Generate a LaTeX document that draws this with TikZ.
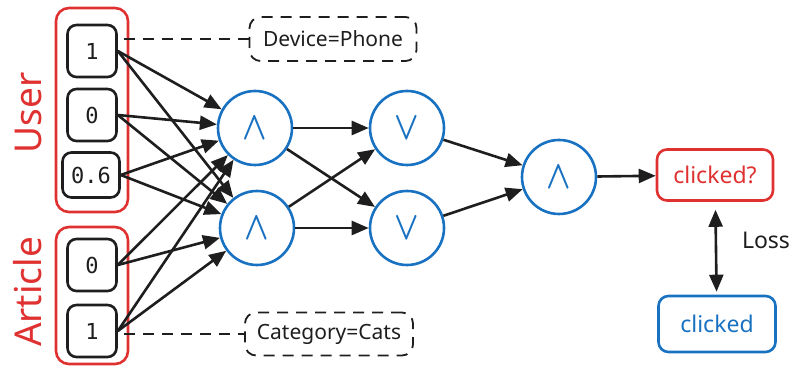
\RequirePackage{fix-cm}
\documentclass[tikz,border=0pt]{standalone}
\usepackage{fontspec}
\usepackage{graphicx}
\setmainfont{Noto Sans}
\newfontfamily\monofont{DejaVu Sans Mono}
\usetikzlibrary{arrows.meta}
\definecolor{XLred}{HTML}{E03131}
\definecolor{XLblue}{HTML}{1971C2}
\definecolor{XLdark}{HTML}{1E1E1E}
\newcommand{\numfont}{\monofont\fontsize{22}{26}\selectfont}
\newcommand{\tagfont}{\fontsize{21}{25}\selectfont}
\newcommand{\outfont}{\fontsize{23}{27}\selectfont}
\newcommand{\grpfont}{\fontsize{37}{40}\selectfont}
\newcommand{\opfont}{\fontsize{40}{44}\selectfont}
\newcommand{\opsym}[1]{\scalebox{0.8}[1]{\boldmath$#1$}}

\begin{document}
\begin{tikzpicture}[x=1pt, y=1pt, >={Triangle[length=17pt, width=14pt]}, line width=2.6pt,
    group/.style={draw=XLred, rounded corners=13pt},
    feat/.style={draw=XLdark, rounded corners=9pt, minimum width=49pt, minimum height=52pt,
                 inner sep=0pt, font=\numfont, text=XLdark},
    gate/.style={circle, draw=XLblue, minimum size=74pt, inner sep=0pt, font=\opfont, text=XLblue},
    note/.style={draw=XLdark, dash pattern=on 11pt off 8pt, line width=1.8pt, rounded corners=11pt,
                 font=\tagfont, text=XLdark},
    wire/.style={XLdark, ->}]
    \useasboundingbox (0,0) rectangle (796,369);
    % feature groups
    \node[group, minimum width=72pt, minimum height=204pt] (userbox) at (92,259) {};
    \node[group, minimum width=72pt, minimum height=137pt] (artbox) at (92,73.5) {};
    \node[rotate=90, text=XLred, font=\grpfont] (userlbl) at (28,256) {User};
    \node[rotate=90, text=XLred, font=\grpfont] (artlbl) at (28,77) {Article};
    % inputs
    \node[feat] (u1) at (92,318) {1};
    \node[feat] (u2) at (92,254) {0};
    \node[feat, minimum width=57pt, minimum height=45pt] (u3) at (91,194) {0.6};
    \node[feat] (a1) at (92,104) {0};
    \node[feat] (a2) at (92,38) {1};
    % meaning of the one-hot inputs
    \node[note, minimum width=167pt, minimum height=44pt] (dev) at (333,330) {Device=Phone};
    \node[note, minimum width=168pt, minimum height=43pt] (cat) at (329,35) {Category=Cats};
    \draw[note] ([xshift=6pt]u1.east |- dev.west) -- (dev.west);
    \draw[note] ([xshift=6pt]a2.east |- cat.west) -- (cat.west);
    % gates
    \node[gate] (and1) at (255,241) {\opsym{\wedge}};
    \node[gate] (and2) at (257,141) {\opsym{\wedge}};
    \node[gate] (or1) at (407,241) {\opsym{\vee}};
    \node[gate] (or2) at (407,141) {\opsym{\vee}};
    \node[gate] (out) at (559,192) {\opsym{\wedge}};
    % every input feeds both first-layer gates
    \foreach \src in {u1,u2,u3,a1,a2}
      \foreach \dst in {and1,and2}
        \draw[wire] (\src.east) -- (\dst);
    \foreach \src in {and1,and2}
      \foreach \dst in {or1,or2}
        \draw[wire] (\src) -- (\dst);
    \draw[wire] (or1) -- (out);
    \draw[wire] (or2) -- (out);
    % prediction vs. label
    \node[draw=XLred, rounded corners=10pt, minimum width=116pt, minimum height=51pt,
          text=XLred, font=\outfont] (pred) at (715,194) {clicked?};
    \node[draw=XLblue, rounded corners=10pt, minimum width=117pt, minimum height=56pt,
          text=XLblue, font=\outfont] (truth) at (717,45) {clicked};
    \draw[wire] (out) -- (pred);
    \draw[XLdark, <->, shorten <=8pt, shorten >=3pt] (pred) -- (truth);
    \node[text=XLdark, font=\outfont] (loss) at (766,129) {Loss};
\end{tikzpicture}
\end{document}
